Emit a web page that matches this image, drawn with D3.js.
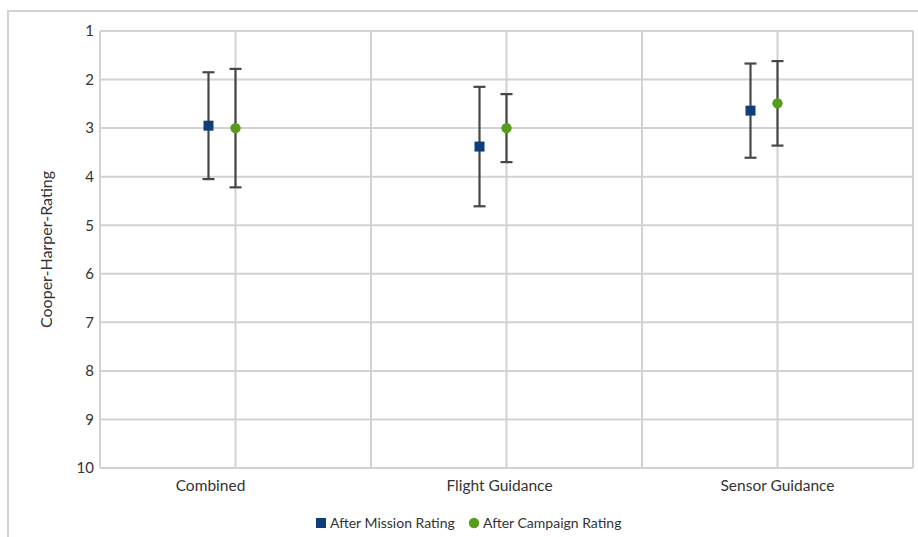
<!DOCTYPE html>
<html><head><meta charset="utf-8">
<script src="https://cdn.jsdelivr.net/npm/d3@7"></script>
<style>body{margin:0;background:#fff}svg{display:block}text{font-family:Lato,"Open Sans",sans-serif;fill:#333}</style>
</head><body><svg id="c" width="918" height="537"></svg>
<script>
const categories = ["Combined", "Flight Guidance", "Sensor Guidance"];
const seriesNames = ["After Mission Rating", "After Campaign Rating"];
const missionMean = [2.95, 3.38, 2.64];
const missionErr  = [1.10, 1.23, 0.97];
const campaignMean = [3.0, 3.0, 2.49];
const campaignErr  = [1.22, 0.70, 0.87];
const yTicks = [1,2,3,4,5,6,7,8,9,10];
const yTitle = "Cooper-Harper-Rating";

const svg = d3.select("#c");
const L = 100, T = 31, R = 913, B = 468;
const grid = "#d2d2d2";
const colors = ["#0f3f7a", "#579d1c"];

svg.append("path").attr("d", "M8,537V11H918").attr("fill","none").attr("stroke",grid).attr("stroke-width",2);

const y = d3.scaleLinear().domain([1,10]).range([T,B]);
const x = d3.scaleBand().domain(categories).range([L,R]);
const bw = x.bandwidth();

svg.append("g").selectAll("line").data(yTicks).join("line")
  .attr("x1",L).attr("x2",R).attr("y1",d=>y(d)).attr("y2",d=>y(d))
  .attr("stroke",grid).attr("stroke-width",2);
const vlines = [];
categories.forEach(c=>{vlines.push(x(c)+bw/2); vlines.push(x(c)+bw);});
svg.append("g").selectAll("line").data(vlines).join("line")
  .attr("x1",d=>d).attr("x2",d=>d).attr("y1",T).attr("y2",B)
  .attr("stroke",grid).attr("stroke-width",2);
svg.append("line").attr("x1",L).attr("x2",L).attr("y1",T).attr("y2",B).attr("stroke",grid).attr("stroke-width",2);

const yAxis = d3.axisLeft(y).tickValues(yTicks).tickSize(0).tickPadding(6);
const gy = svg.append("g").attr("transform",`translate(${L},0)`).call(yAxis);
gy.select(".domain").remove();
gy.selectAll("text").style("font-size","15px").attr("fill","#333").style("font-family","Lato,sans-serif");

const labelOffsets = [-25, -7, 0];
svg.append("g").selectAll("text").data(categories).join("text")
  .attr("x",(d,i)=>x(d)+bw/2+labelOffsets[i]).attr("y",491)
  .attr("text-anchor","middle").style("font-size","15.5px").text(d=>d);

svg.append("text").attr("transform",`translate(52,${(T+B)/2}) rotate(-90)`)
  .attr("text-anchor","middle").style("font-size","16px").text(yTitle);

const series = [
  {mean: missionMean, err: missionErr, dx: -27},
  {mean: campaignMean, err: campaignErr, dx: 0}
];
series.forEach((s,si)=>{
  const g = svg.append("g");
  categories.forEach((c,i)=>{
    const cx = x(c)+bw/2+s.dx;
    const lo = s.mean[i]-s.err[i], hi = s.mean[i]+s.err[i];
    g.append("line").attr("x1",cx).attr("x2",cx).attr("y1",y(lo)).attr("y2",y(hi)).attr("stroke","#474747").attr("stroke-width",2.2);
    [lo,hi].forEach(v=>g.append("line").attr("x1",cx-6).attr("x2",cx+6).attr("y1",y(v)).attr("y2",y(v)).attr("stroke","#474747").attr("stroke-width",2.2));
    if(si===0){
      g.append("rect").attr("x",cx-5).attr("y",y(s.mean[i])-5).attr("width",10).attr("height",10).attr("fill",colors[0]);
    } else {
      g.append("circle").attr("cx",cx).attr("cy",y(s.mean[i])).attr("r",5.2).attr("fill",colors[1]);
    }
  });
});

const lg = svg.append("g");
lg.append("rect").attr("x",316).attr("y",518).attr("width",10).attr("height",10).attr("fill",colors[0]);
lg.append("text").attr("x",330).attr("y",528).style("font-size","14px").text(seriesNames[0]);
lg.append("circle").attr("cx",474).attr("cy",523).attr("r",5.2).attr("fill",colors[1]);
lg.append("text").attr("x",483).attr("y",528).style("font-size","14px").text(seriesNames[1]);
</script></body></html>
